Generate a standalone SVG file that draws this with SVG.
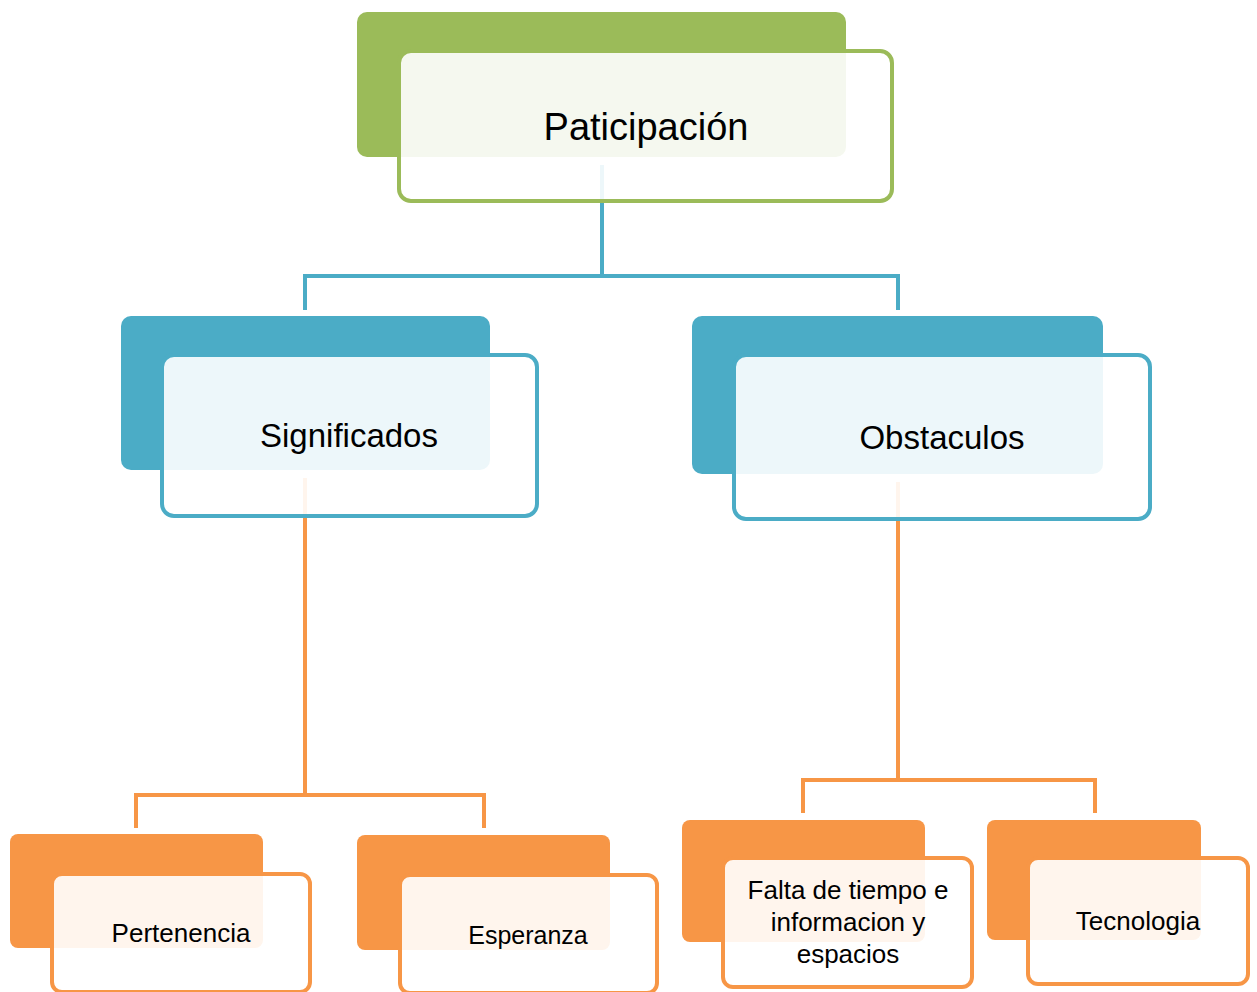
<svg xmlns="http://www.w3.org/2000/svg" width="1257" height="992" viewBox="0 0 1257 992">
<style>
.conn{fill:none;stroke-width:4;stroke-linejoin:miter}
.blueL{stroke:#4BACC6}
.orL{stroke:#F79646}
.front{fill:#FFFFFF;fill-opacity:0.9;stroke-width:4}
.t{font-family:"Liberation Sans",Arial,sans-serif;fill:#000;text-anchor:middle}
</style>
<rect width="1257" height="992" fill="#FFFFFF"/>
<g id="connectors">
<path class="conn blueL" d="M602,165 V276 M305,310 V276 H898 V310"/>
<path class="conn orL" d="M305,478 V795 M136,828 V795 H484 V828"/>
<path class="conn orL" d="M898,482 V780 M803,813 V780 H1095 V813"/>
</g>
<g id="n-participacion">
<rect x="357" y="12" width="489" height="145" rx="10" fill="#9BBB59"/>
<rect class="front" x="399" y="51" width="493" height="150" rx="12" stroke="#9BBB59"/>
<text class="t" x="646" y="140" font-size="38">Paticipación</text>
</g>
<g id="n-significados">
<rect x="121" y="316" width="369" height="154" rx="10" fill="#4BACC6"/>
<rect class="front" x="162" y="355" width="375" height="161" rx="12" stroke="#4BACC6"/>
<text class="t" x="349" y="447" font-size="33">Significados</text>
</g>
<g id="n-obstaculos">
<rect x="692" y="316" width="411" height="158" rx="10" fill="#4BACC6"/>
<rect class="front" x="734" y="355" width="416" height="164" rx="12" stroke="#4BACC6"/>
<text class="t" x="942" y="449" font-size="33">Obstaculos</text>
</g>
<g id="n-pertenencia">
<rect x="10" y="834" width="253" height="114" rx="8" fill="#F79646"/>
<rect class="front" x="52" y="874" width="258" height="118" rx="10" stroke="#F79646"/>
<text class="t" x="181" y="942" font-size="26">Pertenencia</text>
</g>
<g id="n-esperanza">
<rect x="357" y="835" width="253" height="115" rx="8" fill="#F79646"/>
<rect class="front" x="400" y="875" width="257" height="118" rx="10" stroke="#F79646"/>
<text class="t" x="528" y="944" font-size="25">Esperanza</text>
</g>
<g id="n-falta">
<rect x="682" y="820" width="243" height="122" rx="8" fill="#F79646"/>
<rect class="front" x="723" y="858" width="249" height="129" rx="10" stroke="#F79646"/>
<text class="t" x="848" y="899" font-size="26">Falta de tiempo e</text>
<text class="t" x="848" y="931" font-size="26">informacion y</text>
<text class="t" x="848" y="963" font-size="26">espacios</text>
</g>
<g id="n-tecnologia">
<rect x="987" y="820" width="214" height="120" rx="8" fill="#F79646"/>
<rect class="front" x="1028" y="858" width="220" height="126" rx="10" stroke="#F79646"/>
<text class="t" x="1138" y="930" font-size="26">Tecnologia</text>
</g>
</svg>
